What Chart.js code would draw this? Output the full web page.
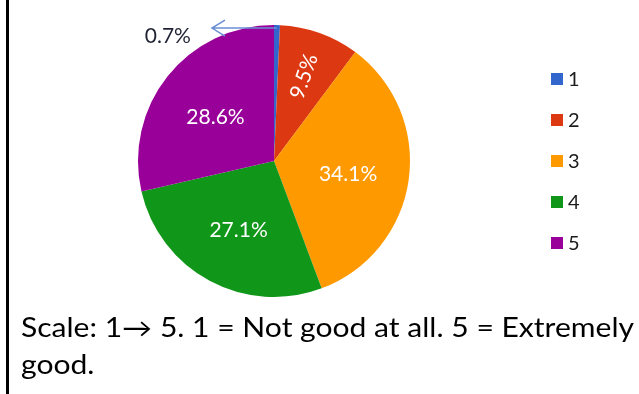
<!DOCTYPE html>
<html>
<head>
<meta charset="utf-8">
<script src="https://cdn.jsdelivr.net/npm/chart.js@4/dist/chart.umd.min.js"></script>
<style>
html, body { margin:0; padding:0; background:#fff; }
canvas { display:block; }
</style>
</head>
<body>
<canvas id="grafica" width="639" height="394"></canvas>
<script>
var categorias = ["1", "2", "3", "4", "5"];
var porcentajes = [0.7, 9.5, 34.1, 27.1, 28.6];
var colores = ["#3366cc", "#dc3912", "#ff9900", "#109618", "#990099"];
var nota = ["Scale: 1\u2192 5. 1 = Not good at all. 5 = Extremely", "good."];

var fuente = "Lato, 'Open Sans', sans-serif";

// etiquetas, leyenda, flecha y nota al pie
var extras = {
	id: 'extras',
	beforeDraw: function(chart){
		var ctx = chart.ctx;
		ctx.save();
		ctx.fillStyle = "#fff";
		ctx.fillRect(0, 0, chart.width, chart.height);
		ctx.restore();
	},
	afterDraw: function(chart){
		var ctx = chart.ctx;
		var arcos = chart.getDatasetMeta(0).data;
		ctx.save();

		for(var i = 0 ; i < arcos.length ; i++){
			var a = arcos[i];
			var medio = (a.startAngle + a.endAngle) / 2;
			var texto = porcentajes[i].toFixed(1) + "%";
			if(porcentajes[i] < 2){
				// rebanada muy chica: texto afuera con flecha
				var px = a.x + Math.cos(medio) * (a.outerRadius - 2);
				var py = a.y + Math.sin(medio) * (a.outerRadius - 2) + 1;
				var fin = px - 65;
				ctx.strokeStyle = "#6b8fd3";
				ctx.lineWidth = 1.5;
				ctx.beginPath();
				ctx.moveTo(px, py);
				ctx.lineTo(fin, py);
				ctx.moveTo(fin + 13, py - 8);
				ctx.lineTo(fin, py);
				ctx.lineTo(fin + 13, py + 8);
				ctx.stroke();
				ctx.fillStyle = "#1f2233";
				ctx.font = "21px " + fuente;
				ctx.textAlign = "right";
				ctx.textBaseline = "alphabetic";
				ctx.fillText(texto, fin - 21, py + 15);
			} else if(porcentajes[i] < 12){
				var rx = a.x + Math.cos(medio) * a.outerRadius * 0.66;
				var ry = a.y + Math.sin(medio) * a.outerRadius * 0.66;
				ctx.save();
				ctx.translate(rx, ry);
				ctx.rotate(medio);
				ctx.fillStyle = "#fff";
				ctx.font = "21px " + fuente;
				ctx.textAlign = "center";
				ctx.textBaseline = "middle";
				ctx.fillText(texto, 0, 0);
				ctx.restore();
			} else {
				var lx = a.x + Math.cos(medio) * a.outerRadius * 0.55;
				var ly = a.y + Math.sin(medio) * a.outerRadius * 0.55 + 3;
				ctx.fillStyle = "#fff";
				ctx.font = "21px " + fuente;
				ctx.textAlign = "center";
				ctx.textBaseline = "middle";
				ctx.fillText(texto, lx, ly);
			}
		}

		// leyenda
		ctx.font = "20px " + fuente;
		ctx.textAlign = "left";
		ctx.textBaseline = "middle";
		for(var j = 0 ; j < categorias.length ; j++){
			var cy = 79 + j * 41;
			ctx.fillStyle = colores[j];
			ctx.fillRect(551, cy - 6, 12, 12);
			ctx.fillStyle = "#1c1c1c";
			ctx.fillText(categorias[j], 568, cy + 1);
		}

		// nota al pie, angostada para que quepa en el ancho
		ctx.fillStyle = "#000";
		ctx.textBaseline = "alphabetic";
		ctx.font = "26px " + fuente;
		var sx = 613 / ctx.measureText(nota[0]).width;
		ctx.save();
		ctx.translate(21, 0);
		ctx.scale(sx, 1);
		ctx.fillText(nota[0], 0, 337);
		ctx.fillText(nota[1], 0, 374);
		ctx.restore();

		// borde izquierdo
		ctx.fillStyle = "#000";
		ctx.fillRect(6, 0, 3, chart.height);
		ctx.restore();
	}
};

var grafica = new Chart(document.getElementById("grafica"), {
	type: 'pie',
	data: {
		labels: categorias,
		datasets: [{data: porcentajes,
			backgroundColor: colores,
			borderWidth: 0}]
	},
	options: {
		responsive: false,
		animation: false,
		events: [],
		layout: {padding: {left: 138, right: 229, top: 25, bottom: 97}},
		plugins: {
			legend: {display: false},
			tooltip: {enabled: false}
		}
	},
	plugins: [extras]
});
</script>
</body>
</html>
